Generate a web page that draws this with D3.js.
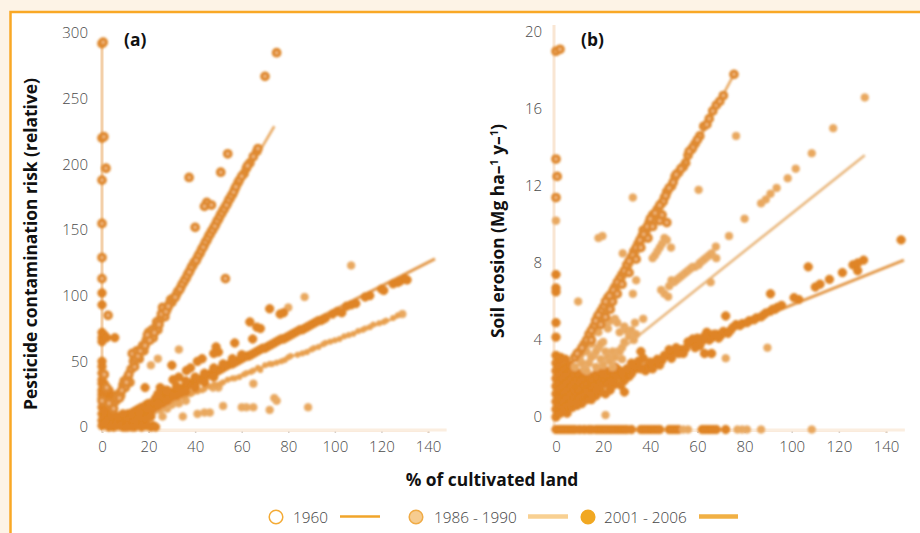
<!DOCTYPE html>
<html lang="en">
<head>
<meta charset="utf-8">
<title>Cultivated land, pesticide risk and soil erosion</title>
<script src="https://d3js.org/d3.v7.min.js"></script>
<style type="text/css">
	html, body { margin: 0; padding: 0; background: #fdf3e6; }
	svg { display: block; }
	text { font-family: "Open Sans", sans-serif; }
	.axis path { fill: none; stroke: #f9e9d8; stroke-width: 3; }
	.axis line { stroke: #d8cfc6; stroke-width: 1.5; }
	.axis text { font-size: 15px; font-weight: 300; fill: #4a4a4a; }
	.title { font-size: 17.4px; font-weight: 700; fill: #111; }
	.legend { font-size: 15.3px; font-weight: 300; fill: #444; }
</style>
</head>
<body>
<script type="text/javascript">

// Tick labels
var xTicks = [0, 20, 40, 60, 80, 100, 120, 140];
var yTicksA = [0, 50, 100, 150, 200, 250, 300];
var yTicksB = [0, 4, 8, 12, 16, 20];

// Regression lines, panel a
var aLine1960 = [[12, 42], [74, 229]];
var aLine1986 = [[4, 3], [129, 85]];
var aLine2001 = [[4, 3], [143, 128]];

// Regression lines, panel b
var bLine1960 = [[2, 1], [75.5, 17.8]];
var bLine1986 = [[4, 1.2], [131, 13.6]];
var bLine2001 = [[4, 1.1], [147.6, 8.15]];

// Panel a, 1960
var a1960 = [[0,292],[0.5,293],[0,220],[0.8,221],[1.7,197],[0,188],[0,155],[0,129],[0,113],[2.6,85],
	[37.4,190],[54,208],[51,194],[45,171],[44,168],[47,169],[40,152],[70,267],[75,285],[53,113],
	[5,14],[6,20],[7,25],[8,24],[9,32],[10,30],[11,38],[12,34],[12.5,44],[13,56],[14,46],[15,58],[16,52],[17,60],[18,58],[19,66],
	[20,72],[21,70],[22,68],[23,76],[24,74],[25,82],[26,91],[27,84],[28,90],[29,94],[30,95],[31,98],[32,101],[33,104],[34,107],
	[35,110],[36,113],[37,117],[38,120],[39,123],[40,126],[41,129],[42,132],[43,136],[44,139],[45,142],[46,146],[47,149],[48,152],
	[49,155],[50,158],[51,162],[52,165],[53,168],[54,171],[55,174],[56,177],[57,181],[58.4,186],[61,193],[62,197],[63.5,201],[66.5,210],
	[2,30],[1,40],[0,20],[3,18],
	[29.5,97],[30.5,98],[31.5,99],[32.5,103],[33.5,105],[34.5,109],[35.5,112],[36.5,115],[37.5,118],[38.5,122],[39.5,125],[40.5,127],
	[41.5,131],[42.5,134],[43.5,137],[44.5,141],[45.5,144],[46.5,147],[47.5,150],[48.5,153],[49.5,157],[50.5,160],[51.5,163],[52.5,166],
	[53.5,169],[54.5,173],[55.5,176],[56.5,179],[57.5,183],[59,188],[60,191],[62.5,199],[65,206],[67,212],
	[6.5,22],[7.5,22],[8.5,28],[9.5,35],[10.5,34],[11.5,40],[13.5,50],[14.5,52],[15.5,54],[16.5,58],[17.5,62],[18.5,62],[19.5,70],
	[20.5,66],[21.5,74],[22.5,72],[23.5,80],[24.5,78],[25.5,86],[27.5,88],[28.5,92]];

// Panel a, 1986 - 1990, the scattered points
var a1986 = [[107,123],[87,99],[80,91],[33,59],[24,52],[21,47],[88.5,15],[75,20],[74,22],[72,13],[62,15],[60,15],[65,15],[52,16],
	[46.3,11],[44,11],[41,10],[34.7,8],[26,8],[65,33],[47.7,30],[50,30],[129,86],
	[20,11],[22,12],[25,13],[28,14],[30,17],[33,18],[36,20]];

// Panel a, 1986 - 1990, the points that sit on the line
var a1986Band = [[24,16],[27,18],[30,20],[33,22],[36,24],[39,26],[41,27],[44,29],[46,31],[49,32],[52,34],[54,36],[57,37],[59,38],[62,41],[65,43],
	[68,43.4],[70,47],[73,48],[75,49],[78.5,51],[81,54],[84,55],[88,57],[91,60],[93,61],[96,64],[100,66],[102,67],[106,70],[110,73],
	[113,75],[116.5,78],[119,79],[122,81],[125,83],
	[25,17],[28,19],[31,21],[35,23],[38,25],[43,28],[48,32],[51,33],[56,37],[61,40],[64,42],[67,45],[72,48],[77,50],[80,53],[86,56],
	[90,59],[95,63],[98,65],[104,69],[108,71],[112,74],[115,76],[121,80],[127,85]];

// Panel a, 2001 - 2006
var a2001 = [[4,4],[6,5],[8,7],[10,8],[11,10],[12,10],[14,12],[15,13],[16,14],[18,15],[19,17],[20,18],[22,19],[23,20],[24,21],[26,23],
	[27,24],[28,24],[30,26],[31,27],[32,28],[34,29],[35,30],[36,31],[38,33],[39,34],[40,35],[42,36],[43,37],[44,38],[46,40],[47,41],
	[48,41],[50,43],[51,44],[52,45],[54,47],[55,48],[56,48],[58,50],[59,51],[60,52],[62,54],[63,54],[64,55],[66,57],[67,58],[68,59],
	[70,60],[71,61],[72,62],[74,64],[75,65],[76,66],[78,67],[79,68],[80,69],[82,71],[83,72],[84,73],[86,74],[87,75],[88,76],[90,78],
	[91,79],[92,80],[94,81],[95,82],
	[99,86],[101,88],[103,87],[105,92],[107,93],[109,94],[113,99],[115,100],[120,105],[121,104],[125,109],[127,110],[128,111],[130,113],[131,112],
	[72,90],[76.5,86],[78,87],[63.5,80],[66.5,76],[68,75],[64.7,67],[57,64],[49,61],[50,57],[48,56],[43,52],[41,50],[36.3,43],[38,45],[30,47],[30.5,36],[25,30],[18.5,30],
	[2,2],[3,3],[5,2],[7,3],[9,5],[10,3],[12,6],[14,4],[15,8],[16,2],[18,9],[19,1],[20,12],[21,0],[22,1],
	[22,14],[23,22],[24,16],[26,18],[27,28],[28,21],[30,23],[32,24],[33,38],[34,26],[36,28],[40,31],
	[0,102],[0,93],[0,72],[0,68],[0,65],[1,70],[5.5,68],[2,68],[0,50],[0,46],[0,41],[0,33],[1,33],[0,28],[2,25],[0,22],[1,18],[3,22],
	[0,15],[2,12],[4,14],[0,10],[2,8],[0,5],[3,6],[0,1],[1,3],[3,0],[5,0],[7,1],[9,0],[12,1],[14,0],
	[5,4],[7,6],[9,8],[13,11],[17,15],[21,18],[25,22],[29,25],[33,29],[37,32],[41,36],[45,39],[49,42],[53,46],[57,49],[61,53],[65,56],
	[69,60],[73,63],[77,67],[81,70],[85,74],[89,77],[93,81],[96,83],
	[16,11],[20,14],[24,25],[24,18],[28,28],[28,20],[32,31],[36,35],[36,27],[40,38],[40,30],[44,41],[44,34],[48,45],[48,38],[52,48],[56,52],[60,55],
	[0,36],[0,25],[3,12],[3,16],[3,28],[5,5],[5,10],[5,18],[5,24],[7,8],[9,10],[11,5],[11,2],[13,8],[13,3],[15,5],[17,6],
	[17,2],[19,6],[21,8],[1,8],[1,12],[1,23],[1,27],[2,16],[2,20],[2,4],[4,9],[4,1],[6,1],[8,1],[10,0],[11,0],[13,0],[15,1],[17,0],[20,1],[23,0]];

// Panel b, 1960
var b1960 = [[0,19],[1.7,19.1],[0,13.4],[0.5,12.5],[0,11.4],[75.5,17.8],[71,16.7],[68,16.2],[65,15.5],[62.7,15.1],[61,14.6],[59,14.2],
	[57.5,13.9],[56,13.6],[55,13.2],[54,13],[52,12.7],[50.5,12.5],[49,12],[47,11.7],[46,11.4],[44.8,11.1],[43,10.8],[41,10.5],[39.5,10.1],
	[38,9.7],[36.5,9.4],[34.8,9],[33,8.6],[32,8.3],[30,7.9],[28,7.4],[25,6.75],[23.5,6.4],[22,6.2],[20,5.7],[17.6,5.2],[16,4.7],[14,4.3],
	[12,3.8],[10,3.4],[8,3.1],[47,10.1],[45,10.5],[39,9.3],[37,9.7],[21,5.2],[24,6],
	[69.5,16.4],[66.5,15.9],[64,15.2],[60,14.4],[58,14],[56.5,13.8],[53,12.9],[51,12.6],[49.7,12.2],[48,11.9],[46.5,11.5],[45.5,11.2],
	[44,11],[42,10.6],[40,10.3],[38.7,9.9],[37.2,9.5],[35.6,9.2],[34,8.8],[32.6,8.4],[31,8.1],[29,7.6],[27,7.2],[26,7],[24.3,6.6],[22.7,6.3],
	[21,6],[19,5.5],[18,5.3],[16.8,5],[15,4.5],[13,4],[11,3.6],[9,3.3],[44,10.2],[41,9.9],[36,8.8],[34,8.2],[31,7.5],[28,6.9],[26,6.4],[23,5.6],[19,4.8],[15,4]];

// Panel b, 1986 - 1990
var b1986 = [[0,10.2],[131,16.6],[117.6,15],[108.5,13.7],[101.7,12.9],[98.3,12.4],[93.6,11.9],[91,11.6],[89,11.3],[87,11.1],[80,10.3],[73.4,9.4],
	[76.4,14.6],[60.5,11.8],[32.6,11.4],[19.7,9.4],[18,9.3],[28.3,8.5],[41,8.25],[43,8.6],[45,9],[47,9.2],[48.8,8.8],
	[44.6,6.6],[46,6.4],[47.6,6.25],[48,6.8],[50,7],[52,7.2],[54,7.4],[56,7.6],[58,7.8],[60.5,7.9],[62,8.1],[64,8.3],[66,8.5],[67.8,8.85],[68,8.25],[65.6,7],
	[34,7.1],[32.6,6.4],[9.4,6],[72,3.05],[89.7,3.6],[21,0.1],[33.5,4.9],[37,5.1],
	[49,7.1],[51,7.1],[53,7.3],[55,7.5],[57,7.7],[59,7.8],[61,8],[63,8.2],[65,8.4],[42,8.4],[44,8.8],[46,9.3],
	[8,2.6],[10,3],[12,2.5],[13,3.4],[14,2.8],[15,3.8],[16,3.2],[17,2.6],[18,3.6],[18,4.4],[19,3],[20,2.7],[20,3.9],[21,3.4],[21,4.8],[22,3.1],
	[24,2.6],[25,5.1],[26,3.4],[27,4.4],[28,3.6],[29,4.7],[28,3],[31,4.2],[33,4],
	[11,2.8],[13,2.4],[15,3.1],[17,3.4],[19,3.8],[23,2.9],[24,3.4],[25,3.1],[27,3.4],[29,3.9],[30,4.5],[32,4.5],[34,4.3],[22,4.6],[23,5],[26,4.9],
	[77,-0.65],[79,-0.65],[81,-0.65],[87,-0.65],[108.5,-0.65],[54,-0.65],[56,-0.65]];

// Panel b, 2001 - 2006
var b2001 = [[146.4,9.2],[107,7.8],[126,7.9],[128,8],[130.5,8.15],[110,6.75],[112,6.9],[116,7.15],[121.5,7.5],[128,7.6],[101,6.2],[103,6.1],[91,6.4],[72,5.25],
	[95.7,5.8],[93,5.6],[91,5.5],[88,5.3],[85,5.15],[82,5],[79,4.85],[76.4,4.8],[74,4.5],[71,4.45],[68,4.3],[66,4.1],[64,4.4],[62,3.95],[60,4.1],[57.5,3.85],[55,3.55],
	[53,3.5],[50,3.4],[47.6,3.2],[45,2.95],[42,2.8],[39,2.6],[37,3.05],[36,3.4],[35,2.9],[34,2.5],[31,2.1],[29,1.9],[27.5,1.65],[29,1.3],[25,1.7],[23,1.4],[21,1.2],[19,1.3],
	[17,1.1],[15,0.9],[13,0.9],[11,0.7],[9,0.6],[7,0.5],[4.7,0.2],[63,3.3],[66,3.3],
	[94,5.7],[92,5.6],[89,5.4],[87,5.2],[84,5.05],[81,4.9],[78,4.75],[75,4.65],[73,4.35],[70,4.25],[69,4.1],[67,4.3],[65,4],[63,4.2],[61,3.7],[59,3.6],[58,4.05],[56,3.9],[54,3.3],
	[52,3.3],[51,3.6],[49,3.05],[48,3.5],[46,3.2],[44,2.7],[43,3],[41,2.5],[40,2.85],[38,2.4],[36,2.5],[33,2.6],[32,2.25],[30,2.4],[28,2.1],
	[0,7.4],[0,6.7],[0,6.5],[0,4.9],[0,4.15],
	[0,3.2],[0,2.8],[0,2.4],[0,2],[0,1.6],[0,1.2],[0,0.8],[0,0.4],[0,0],
	[1,3.1],[1,2.6],[1,2.2],[1,1.8],[1,1.4],[1,1],[1,0.6],[1,0.2],
	[2,3.1],[2,2.6],[2,2.2],[2,1.8],[2,1.4],[2,1],[2,0.6],[2,0.2],
	[3,3],[3,2.4],[3,2],[3,1.6],[3,1.2],[3,0.8],[3,0.3],
	[4,3],[4,2.5],[4,2.1],[4,1.7],[4,1.3],[4,0.9],[4,0.5],
	[5,2.6],[5,2.2],[5,1.8],[5,1.4],[5,1],[5,0.6],
	[6,2.7],[6,2.3],[6,1.9],[6,1.5],[6,1.1],[6,0.7],
	[7,2.4],[7,2],[7,1.6],[7,1.2],[7,0.8],
	[8,2.2],[8,1.8],[8,1.4],[8,1],
	[9,2.3],[9,1.9],[9,1.5],[9,1.1],[9,0.8],
	[10,2.2],[10,1.8],[10,1.4],[10,1],
	[11,2.3],[11,1.9],[11,1.5],[11,1.1],
	[12,2],[12,1.6],[12,1.2],
	[13,2.1],[13,1.7],[13,1.3],
	[14,2.1],[14,1.7],[14,1.3],
	[15,2],[15,1.6],[15,1.2],
	[16,1.9],[16,1.5],[17,2.2],[17,1.7],[17,1.4],
	[18,2],[18,1.6],[19,2.3],[19,1.8],
	[20,2.2],[20,1.7],[21,2.4],[21,1.9],[22,2.1],[22,1.7],[23,2.4],[23,1.9],[24,2.3],[24,1.9],[25,2.6],[25,2.2],[26,2.5],[26,2.1],[27,2.4],[28,2.3],[30,2.5],[32,2.8],
	[0,-0.65],[1,-0.65],[2,-0.65],[3,-0.65],[4,-0.65],[5,-0.65],[6,-0.65],[7,-0.65],[8,-0.65],[10,-0.65],[12,-0.65],[14,-0.65],[15,-0.65],[17,-0.65],[18,-0.65],[19,-0.65],[20,-0.65],
	[21,-0.65],[22,-0.65],[23,-0.65],[24,-0.65],[25,-0.65],[26,-0.65],[27,-0.65],[28,-0.65],[29,-0.65],[30,-0.65],[32,-0.65],
	[36,-0.65],[37,-0.65],[38,-0.65],[39,-0.65],[40,-0.65],[41,-0.65],[42,-0.65],[43,-0.65],[44,-0.65],[48,-0.65],[49,-0.65],[50,-0.65],[51,-0.65],[52,-0.65],
	[62,-0.65],[63,-0.65],[64,-0.65],[65,-0.65],[66,-0.65],[67,-0.65],[68,-0.65],[72,-0.65]];

// Width and height
var w = 920;
var h = 533;

var svg = d3.select("body")
	.append("svg")
	.attr("width", w)
	.attr("height", h);

// Page background is the body colour, the white box has an orange border on two sides
svg.append("rect")
	.attr("x", 10.5)
	.attr("y", 12)
	.attr("width", w)
	.attr("height", h)
	.attr("fill", "#fff")
	.attr("stroke", "#f9a825")
	.attr("stroke-width", 2.5);

// A slight blur, the marks in the reference are soft
var blur = svg.append("defs").append("filter")
	.attr("id", "soft")
	.attr("x", "-5%").attr("y", "-5%")
	.attr("width", "110%").attr("height", "110%");
blur.append("feGaussianBlur").attr("stdDeviation", 0.8);

// Scales
var xA = d3.scaleLinear().domain([0, 140]).range([102, 428]);
var yA = d3.scaleLinear().domain([0, 300]).range([427, 33]);
var xB = d3.scaleLinear().domain([0, 140]).range([556, 886]);
var yB = d3.scaleLinear().domain([0, 20]).range([417, 32]);

var styles = {
	s1960: {fill: "#f3c088", stroke: "#df8a30", sw: 3.4, r: 3.2},
	s1986: {fill: "#e9a85e", stroke: "#e9ae6c", sw: 1, r: 3.8},
	s1986Band: {fill: "#e8a050", stroke: "#e8a050", sw: 1, r: 2.6},
	s2001: {fill: "#df8425", stroke: "#df8425", sw: 1, r: 4.2}
};

function drawAxes(x, y, yTicks, axisRight, axisTop, axisBottom) {
	svg.append("g")
		.attr("class", "axis")
		.attr("transform", "translate(0," + axisBottom + ")")
		.call(d3.axisBottom(x).tickValues(xTicks).tickSizeOuter(0).tickSize(3).tickPadding(8));

	var yAxis = svg.append("g")
		.attr("class", "axis")
		.attr("transform", "translate(" + axisRight + ",0)")
		.call(d3.axisLeft(y).tickValues(yTicks).tickSizeOuter(0).tickSize(0).tickPadding(axisRight - x(0) + 14));
	yAxis.select("path").remove();

	// Axis extended by hand, it runs a little past the zero tick and past the last mark
	svg.append("line")
		.attr("x1", axisRight).attr("x2", axisRight)
		.attr("y1", axisTop).attr("y2", axisBottom)
		.attr("stroke", axisRight < 300 ? "#f3cfa8" : "#f9e6d3")
		.attr("stroke-width", 3);
	svg.append("line")
		.attr("x1", x(0)).attr("x2", x(148))
		.attr("y1", axisBottom).attr("y2", axisBottom)
		.attr("stroke", "#fbeee0")
		.attr("stroke-width", 3);
}

function drawLine(g, x, y, pts, col, width) {
	g.append("path")
		.datum(pts)
		.attr("d", d3.line().x(function(d) { return x(d[0]); }).y(function(d) { return y(d[1]); }))
		.attr("fill", "none")
		.attr("stroke", col)
		.attr("stroke-width", width);
}

function drawPoints(g, x, y, pts, s) {
	g.selectAll(null)
		.data(pts)
		.enter()
		.append("circle")
		.attr("cx", function(d) { return x(d[0]); })
		.attr("cy", function(d) { return y(d[1]); })
		.attr("r", s.r)
		.attr("fill", s.fill)
		.attr("stroke", s.stroke)
		.attr("stroke-width", s.sw);
}

// Panel a
drawAxes(xA, yA, yTicksA, 102, 42, 430);
var gA = svg.append("g").attr("filter", "url(#soft)");
drawLine(gA, xA, yA, aLine1960, "#e8a860", 2.5);
drawLine(gA, xA, yA, aLine1986, "#e8a860", 2.5);
drawLine(gA, xA, yA, aLine2001, "#e39a4c", 3);
drawPoints(gA, xA, yA, a1986, styles.s1986);
drawPoints(gA, xA, yA, a1986Band, styles.s1986Band);
drawPoints(gA, xA, yA, a2001, styles.s2001);
drawPoints(gA, xA, yA, a1960, styles.s1960);

// Panel b
drawAxes(xB, yB, yTicksB, 554, 25, 430);
var gB = svg.append("g").attr("filter", "url(#soft)");
drawLine(gB, xB, yB, bLine1960, "#e8a860", 2.5);
drawLine(gB, xB, yB, bLine1986, "#e8b57a", 2.5);
drawLine(gB, xB, yB, bLine2001, "#e39a4c", 3);
drawPoints(gB, xB, yB, b2001, styles.s2001);
drawPoints(gB, xB, yB, b1986, styles.s1986);
drawPoints(gB, xB, yB, b1960, styles.s1960);

// Titles
svg.append("text").attr("class", "title").attr("x", 124).attr("y", 46).text("(a)");
svg.append("text").attr("class", "title").attr("x", 581).attr("y", 46).text("(b)");
svg.append("text").attr("class", "title").attr("x", 492).attr("y", 486).attr("text-anchor", "middle").text("% of cultivated land");

svg.append("text")
	.attr("class", "title")
	.attr("transform", "translate(37,244) rotate(-90)")
	.attr("text-anchor", "middle")
	.text("Pesticide contamination risk (relative)");

var yTitleB = svg.append("text")
	.attr("class", "title")
	.attr("transform", "translate(504,231) rotate(-90)")
	.attr("text-anchor", "middle");
yTitleB.append("tspan").text("Soil erosion (Mg ha\u2013");
yTitleB.append("tspan").attr("dy", -6).attr("font-size", 11).text("1");
yTitleB.append("tspan").attr("dy", 6).text(" y\u2013");
yTitleB.append("tspan").attr("dy", -6).attr("font-size", 11).text("1");
yTitleB.append("tspan").attr("dy", 6).text(")");

// Legend
var legendItems = ["1960", "1986 - 1990", "2001 - 2006"];
var legendDots = [
	{cx: 276, fill: "#fff", stroke: "#f4ab36"},
	{cx: 416, fill: "#f6cc90", stroke: "#f0ab46"},
	{cx: 588, fill: "#f1a822", stroke: "#f1a822"}
];
var legendText = [293, 434, 604];
var legendLine = [
	{x1: 340, x2: 380, col: "#f1a52a", sw: 2.5},
	{x1: 528, x2: 568, col: "#f8d092", sw: 4.5},
	{x1: 699, x2: 738, col: "#f1b044", sw: 4.5}
];

legendItems.forEach(function(d, i) {
	svg.append("circle")
		.attr("cx", legendDots[i].cx)
		.attr("cy", 517)
		.attr("r", 6.8)
		.attr("fill", legendDots[i].fill)
		.attr("stroke", legendDots[i].stroke)
		.attr("stroke-width", 1.5);
	svg.append("text")
		.attr("class", "legend")
		.attr("x", legendText[i])
		.attr("y", 523)
		.text(d);
	svg.append("line")
		.attr("x1", legendLine[i].x1)
		.attr("x2", legendLine[i].x2)
		.attr("y1", 516.5)
		.attr("y2", 516.5)
		.attr("stroke", legendLine[i].col)
		.attr("stroke-width", legendLine[i].sw);
});

</script>
</body>
</html>
